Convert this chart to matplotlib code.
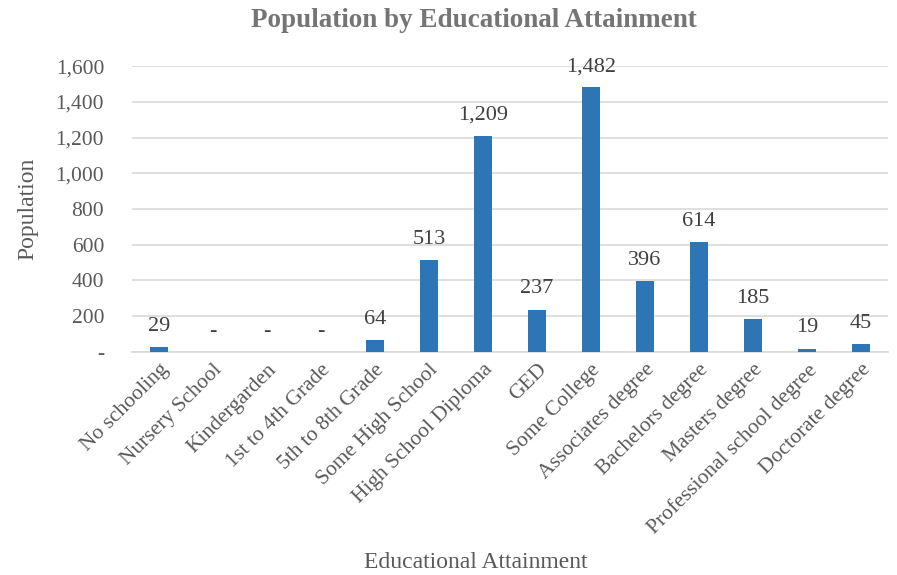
import matplotlib.pyplot as plt
from matplotlib.ticker import FuncFormatter

categories = ['No schooling', 'Nursery School', 'Kindergarden', '1st to 4th Grade',
              '5th to 8th Grade', 'Some High School', 'High School Diploma', 'GED',
              'Some College', 'Associates degree', 'Bachelors degree', 'Masters degree',
              'Professional school degree', 'Doctorate degree']
population = [29, 0, 0, 0, 64, 513, 1209, 237, 1482, 396, 614, 185, 19, 45]
y_ticks = [0, 200, 400, 600, 800, 1000, 1200, 1400, 1600]

plt.rcParams['font.family'] = ['Liberation Serif', 'DejaVu Serif']
text_col = '#595959'


def acct(v, pos=None):
    # Excel accounting style: zero shows as a dash
    return '-' if v == 0 else f'{v:,.0f}'


fig = plt.figure(figsize=(8.97, 5.75), dpi=100)
ax = fig.add_axes([0.147, 0.388, 0.843, 0.497])

x = range(len(categories))
ax.bar(x, population, width=0.32, color='#2E75B6', zorder=3)

for xi, v in zip(x, population):
    ax.annotate(acct(v), (xi, v), xytext=(0, 8), textcoords='offset points',
                ha='center', va='bottom', fontsize=16, color='#404040')

ax.set_ylim(0, 1600)
ax.set_xlim(-0.5, len(categories) - 0.5)
ax.set_yticks(y_ticks)
ax.yaxis.set_major_formatter(FuncFormatter(acct))
ax.grid(axis='y', color='#D9D9D9', linewidth=1.2, zorder=0)
for s in ['top', 'right', 'left']:
    ax.spines[s].set_visible(False)
ax.spines['bottom'].set_color('#D9D9D9')
ax.spines['bottom'].set_linewidth(1.2)
ax.tick_params(axis='both', length=0, colors=text_col, labelsize=15.5)
ax.tick_params(axis='y', pad=20)
ax.tick_params(axis='x', pad=6)

ax.set_xticks(list(x))
ax.set_xticklabels(categories, rotation=45, ha='right', rotation_mode='anchor')

ax.set_ylabel('Population', fontsize=17, color=text_col, labelpad=12)
fig.text(476 / 897, 1 - 562 / 575, 'Educational Attainment', ha='center', va='center',
         fontsize=17, color=text_col)
fig.text(474 / 897, 0.965, 'Population by Educational Attainment', ha='center', va='center',
         fontsize=19.5, fontweight='bold', color='#757575')

fig.savefig('out.png', dpi=100)
